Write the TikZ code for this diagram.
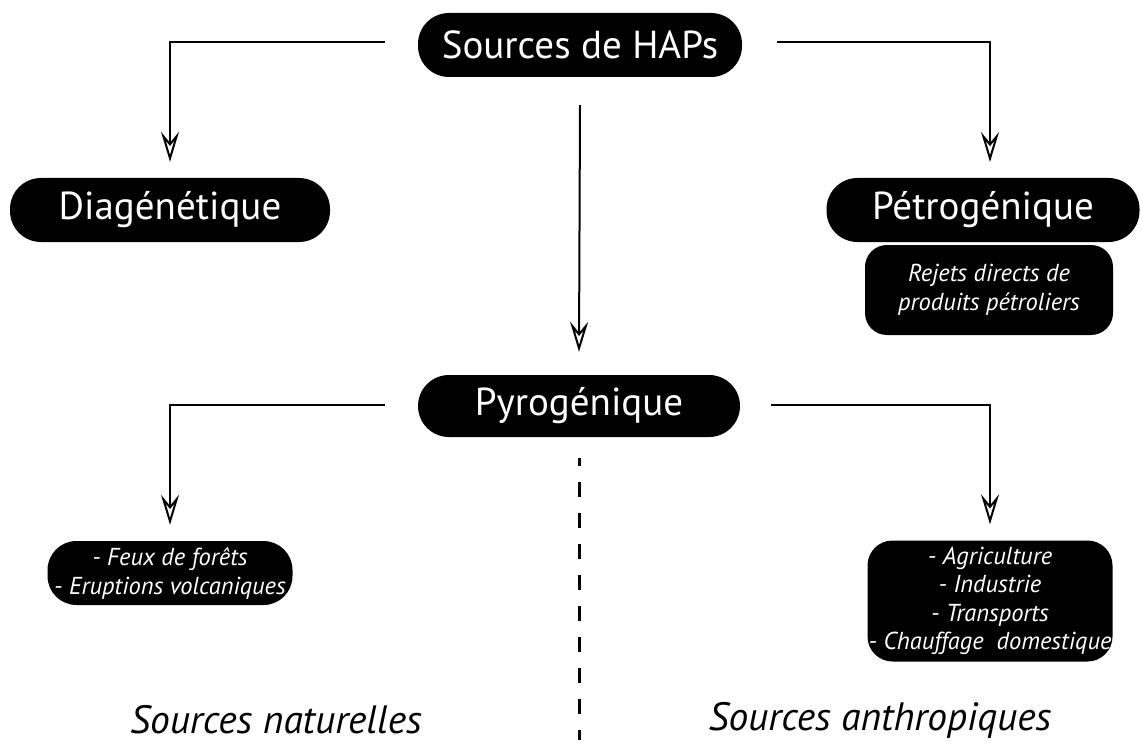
\documentclass[tikz,border=0pt]{standalone}
\usepackage{fontspec}
\setmainfont{PT Sans}
\usetikzlibrary{arrows.meta}
\tikzset{
  box/.style={fill=black, text=white, rounded corners=31pt, inner sep=0pt, align=center},
  bigtxt/.style={font=\fontsize{39}{44}\selectfont},
  smalltxt/.style={font=\fontsize{24.5}{29}\selectfont\itshape},
  arr/.style={line width=2pt, -{Stealth[length=30pt,width=18pt,inset=11pt,fill=white,line width=2pt]}},
  sep/.style={line width=3pt, dash pattern=on 15pt off 16pt, dash phase=7pt},
  lbl/.style={font=\fontsize{39.5}{44}\selectfont\itshape}
}
\begin{document}
\begin{tikzpicture}[x=1pt,y=-1pt]
\useasboundingbox (0,0) rectangle (1142,746);
\node[box,bigtxt,minimum width=324pt,minimum height=64pt] (src) at (580,45) {Sources de HAPs};
\node[box,bigtxt,minimum width=320pt,minimum height=64pt] (dia) at (170,210) {Diagénétique};
\node[box,bigtxt,minimum width=313pt,minimum height=64pt] (pet) at (983,210) {Pétrogénique};
\node[box,smalltxt,minimum width=248pt,minimum height=90pt,rounded corners=22pt] (rej) at (989,290) {Rejets directs de\\produits pétroliers};
\node[box,bigtxt,minimum width=322pt,minimum height=62pt] (pyr) at (579,406) {Pyrogénique};
\node[box,smalltxt,minimum width=245pt,minimum height=64pt,rounded corners=29pt] (feu) at (170,573) {- Feux de forêts\\- Eruptions volcaniques};
\node[box,minimum width=245pt,minimum height=121pt,rounded corners=25pt,font=\fontsize{24.5}{28.5}\selectfont\itshape] (agr) at (990,601) {- Agriculture\\- Industrie\\- Transports\\- Chauffage\ \ domestique};
\node[lbl] (nat) at (276,720) {Sources naturelles};
\node[lbl] (ant) at (880,720) {Sources anthropiques};
\coordinate (dtop) at (579,458);
\coordinate (dbot) at (579,740);
\coordinate (petin) at (990,178);
\draw[arr] ([xshift=-33pt,yshift=3pt]src.west) -| ([yshift=16pt]dia.north);
\draw[arr] ([xshift=35pt,yshift=3pt]src.east) -| ([yshift=16pt]petin);
\draw[arr] ([yshift=-28pt]src.south) -- ([yshift=23pt]pyr.north);
\draw[arr] ([xshift=-33pt,yshift=1pt]pyr.west) -| ([yshift=16pt]feu.north);
\draw[arr] ([xshift=31pt,yshift=1pt]pyr.east) -| ([yshift=16pt]agr.north);
\draw[sep] (dtop) -- (dbot);
\end{tikzpicture}
\end{document}
